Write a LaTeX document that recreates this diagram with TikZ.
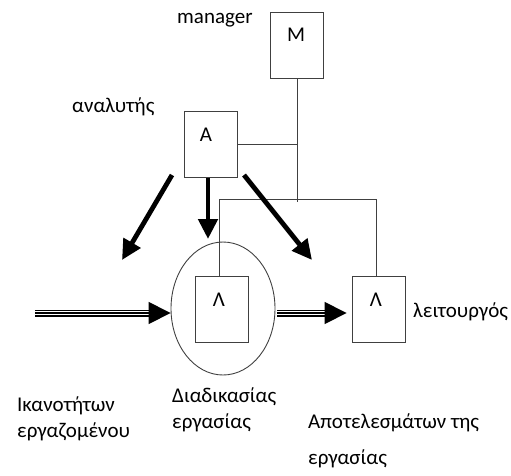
\documentclass[tikz,border=0pt]{standalone}
\usepackage{fontspec}
\setmainfont{Carlito}
\usetikzlibrary{arrows.meta,shapes.geometric}
\begin{document}
\begin{tikzpicture}[x=1pt,y=-1pt,
  txt/.style={font=\fontsize{21}{26}\selectfont, inner sep=0pt},
  box/.style={draw=black!75, line width=0.9pt, minimum width=53pt, minimum height=66pt, inner sep=0pt},
  conn/.style={draw=black!75, line width=0.9pt},
  bigarrow/.style={line width=4.8pt, -{Triangle[length=20pt,width=19pt]}},
  tripleline/.style={double=white, double distance=3.6pt, line width=1.7pt},
  triplemid/.style={line width=1.6pt, -{Triangle[length=22pt,width=22pt]}}
]
\useasboundingbox (0,0) rectangle (511,475);
% boxes
\node[box] (M) at (297,45) {};
\node[txt] (Mt) at (296,35) {M};
\node[box] (A) at (210.5,144.5) {};
\node[txt] (At) at (206,135) {A};
\node[box] (L1) at (222,309) {};
\node[txt] (L1t) at (219,300) {Λ};
\node[box] (L2) at (378.5,309) {};
\node[txt] (L2t) at (376,300) {Λ};
\node[draw=black!75, line width=0.9pt, ellipse, minimum width=104pt, minimum height=133pt, inner sep=0pt] (E) at (223,308.5) {};
% labels
\node[txt, anchor=west] (mgr) at (177,20) {manager};
\node[txt, anchor=west] (an) at (72,107) {αναλυτής};
\node[txt, anchor=west] (lei) at (413,312) {λειτουργός};
\node[txt, anchor=north west, align=left] (ik) at (17,397) {Ικανοτήτων\\εργαζομένου};
\node[txt, anchor=north west, align=left] (di) at (172,388) {Διαδικασίας\\εργασίας};
\node[txt, anchor=north west, align=left] (ap) at (308,414) {Αποτελεσμάτων της\\[10pt]εργασίας};
% connectors
\coordinate (j1) at (297,202);
\coordinate (bl) at (219,199);
\coordinate (br) at (376,199);
\draw[conn] (M.south) -- (j1);
\draw[conn] (A.east) -- (A.east -| M.south);
\draw[conn] (L1.north -| bl) -- (bl) -- (br) -- (L2.north -| br);
% thick arrows
\coordinate (t1) at (122,260);
\coordinate (t2) at (208,239);
\coordinate (t3) at (312,260);
\draw[bigarrow] (172,175) -- (t1);
\draw[bigarrow] (A.south -| t2) -- (t2);
\draw[bigarrow] (244,175) -- (t3);
% triple arrows
\coordinate (in) at (35,313);
\coordinate (out) at (277,313);
\draw[tripleline, shorten >=20pt] (in) -- (in -| E.west);
\draw[triplemid] (in) -- (in -| E.west);
\draw[tripleline, shorten >=25pt] (out) -- (out -| L2.west);
\draw[triplemid, shorten >=5pt] (out) -- (out -| L2.west);
\end{tikzpicture}
\end{document}
